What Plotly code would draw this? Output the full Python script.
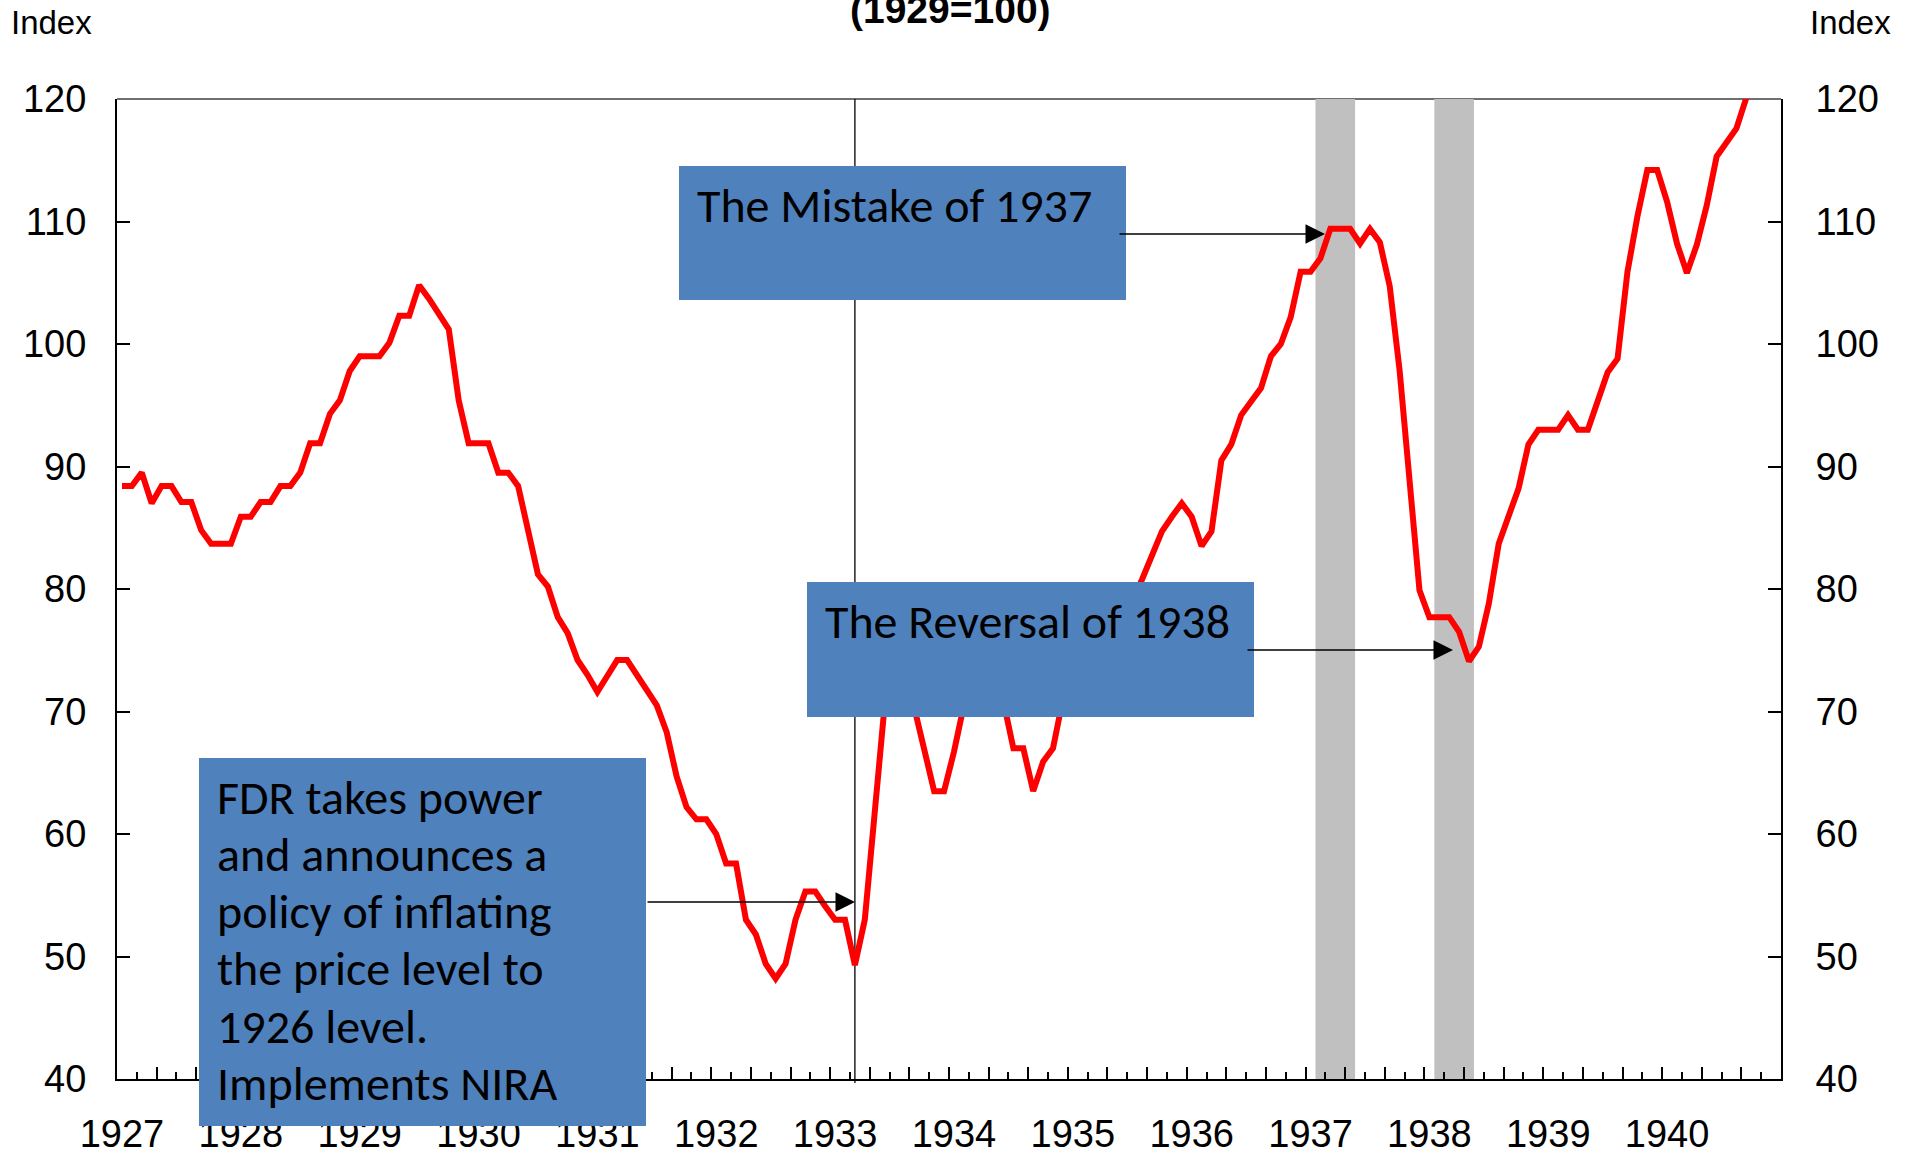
import plotly.graph_objects as go

# ---------------- data ----------------
years = [str(y) for y in range(1927, 1941)]
months_per_year = 12
n_months = len(years) * months_per_year

# monthly index values (1929=100), Jan 1927 onward
index_values = [
    88.4, 88.4, 89.5, 87.0, 88.4, 88.4, 87.1, 87.1, 84.8, 83.7, 83.7, 83.7,        # 1927
    85.9, 85.9, 87.1, 87.1, 88.4, 88.4, 89.5, 91.9, 91.9, 94.3, 95.4, 97.8,        # 1928
    99.0, 99.0, 99.0, 100.1, 102.3, 102.3, 104.8, 103.7, 102.4, 101.2, 95.4, 91.9, # 1929
    91.9, 91.9, 89.5, 89.5, 88.4, 84.8, 81.2, 80.2, 77.7, 76.4, 74.2, 73.0,        # 1930
    71.6, 72.9, 74.2, 74.2, 73.0, 71.6, 70.5, 68.3, 64.7, 62.2, 61.2, 61.2,        # 1931
    60.0, 57.6, 57.6, 53.0, 51.8, 49.4, 48.2, 49.4, 53.0, 55.3, 55.3, 54.1,        # 1932
    53.0, 53.0, 49.3, 53.0, 61.7, 70.5, 77.0, 74.0, 70.3, 66.8, 63.5, 63.5,        # 1933
    66.7, 70.5, 73.0, 74.0, 73.0, 70.8, 67.0, 67.0, 63.5, 65.9, 67.0, 71.0,        # 1934
    72.0, 72.5, 73.5, 74.5, 76.0, 77.5, 79.0, 80.8, 82.8, 84.7, 85.9, 87.0,        # 1935
    85.9, 83.5, 84.7, 90.5, 91.8, 94.2, 95.3, 96.4, 99.0, 100.0, 102.2, 105.9,     # 1936
    105.9, 107.0, 109.4, 109.4, 109.4, 108.2, 109.4, 108.3, 104.7, 97.8, 88.5, 79.9,  # 1937
    77.7, 77.7, 77.7, 76.5, 74.1, 75.3, 78.8, 83.7, 85.9, 88.2, 91.8, 93.0,        # 1938
    93.0, 93.0, 94.2, 93.0, 93.0, 95.3, 97.7, 98.8, 105.9, 110.4, 114.2, 114.2,    # 1939
    111.6, 108.2, 105.8, 108.1, 111.3, 115.3, 116.4, 117.6, 120.1,                 # 1940
]
month_idx = list(range(len(index_values)))

# shaded periods (first and last month index, inclusive)
shaded_periods = [(121, 124), (133, 136)]
fdr_month = 74  # March 1933

y_ticks = [40, 50, 60, 70, 80, 90, 100, 110, 120]
y_range = [40, 120]

mistake_text = "The Mistake of 1937"
reversal_text = "The Reversal of 1938"
fdr_lines = ["FDR takes power", "and announces a", "policy of inflating",
             "the price level to", "1926 level.", "Implements NIRA"]

# ---------------- layout geometry ----------------
W, H = 1914, 1153
L, R, T, B = 117, 1781, 99, 1079
PW, PH = R - L, B - T


def px(xp):
    return (xp - L) / PW


def py(yp):
    return (B - yp) / PH


AXIS_FONT = dict(family="Liberation Sans, Arial, sans-serif", size=38, color="black")
BOX_FONT = dict(family="Carlito, Calibri, Lato, sans-serif", size=48, color="black")
BOX_COLOR = "#4F81BD"

fig = go.Figure()
fig.add_trace(go.Scatter(
    x=month_idx, y=index_values, mode="lines",
    line=dict(color="#FF0000", width=6), showlegend=False, hoverinfo="skip"))
fig.add_trace(go.Scatter(x=[None], y=[None], xaxis="x2", yaxis="y2",
                         showlegend=False, hoverinfo="skip"))

shapes = []
# top border
shapes.append(dict(type="line", xref="paper", yref="paper", x0=0, x1=1, y0=1, y1=1,
                   line=dict(color="#404040", width=1.5), layer="below"))
for a, b in shaded_periods:
    shapes.append(dict(type="rect", xref="x", yref="paper", x0=a - 0.5, x1=b + 0.5,
                       y0=0, y1=1, fillcolor="#C0C0C0", line=dict(width=0), layer="below"))
shapes.append(dict(type="line", xref="x", yref="paper", x0=fdr_month, x1=fdr_month,
                   y0=-4 / PH, y1=1, line=dict(color="black", width=1.3), layer="below"))

boxes = {
    "mistake": (679, 1126, 166, 300),
    "reversal": (807, 1254, 582, 717),
    "fdr": (199, 646, 758, 1126),
}
for k, (x0, x1, y0, y1) in boxes.items():
    shapes.append(dict(type="rect", xref="paper", yref="paper",
                       x0=px(x0), x1=px(x1), y0=py(y1), y1=py(y0),
                       fillcolor=BOX_COLOR, line=dict(width=0), layer="above"))

annotations = []
# box texts
annotations.append(dict(text=mistake_text, xref="paper", yref="paper",
                        x=px(695), y=py(206), xanchor="left", yanchor="middle",
                        showarrow=False, font=BOX_FONT, align="left"))
annotations.append(dict(text=reversal_text, xref="paper", yref="paper",
                        x=px(823), y=py(621), xanchor="left", yanchor="middle",
                        showarrow=False, font=BOX_FONT, align="left"))
for n, line in enumerate(fdr_lines):
    annotations.append(dict(text=line, xref="paper", yref="paper",
                            x=px(215), y=py(797 + n * 57.3), xanchor="left", yanchor="middle",
                            showarrow=False, font=BOX_FONT, align="left"))

# arrows (tip, tail in pixels)
arrows = [((855, 902), (646, 902)), ((1325, 234), (1118, 234)), ((1453, 650), (1246, 650))]
for (tx, ty), (sx, sy) in arrows:
    annotations.append(dict(text="", xref="paper", yref="paper", x=px(tx), y=py(ty),
                            ax=sx - tx, ay=sy - ty, axref="pixel", ayref="pixel",
                            showarrow=True, arrowhead=2, arrowsize=2.6, arrowwidth=1.5,
                            arrowcolor="black", standoff=0))

# axis titles
annotations.append(dict(text="Index", xref="paper", yref="paper", x=px(51), y=py(22),
                        xanchor="center", yanchor="middle", showarrow=False,
                        font=dict(family="Liberation Sans, Arial", size=33, color="black")))
annotations.append(dict(text="Index", xref="paper", yref="paper", x=px(1850), y=py(22),
                        xanchor="center", yanchor="middle", showarrow=False,
                        font=dict(family="Liberation Sans, Arial", size=33, color="black")))
annotations.append(dict(text="<b>(1929=100)</b>", xref="paper", yref="paper", x=px(950), y=py(10),
                        xanchor="center", yanchor="middle", showarrow=False,
                        font=dict(family="Liberation Sans, Arial", size=39, color="black")))

x_range = [-0.5, n_months - 0.5]

fig.update_layout(
    width=W, height=H,
    margin=dict(l=L, r=W - R, t=T, b=H - B, autoexpand=False),
    paper_bgcolor="white", plot_bgcolor="white",
    showlegend=False,
    shapes=shapes, annotations=annotations,
    xaxis=dict(range=x_range, tickmode="array",
               tickvals=[i * months_per_year for i in range(len(years))], ticktext=years,
               ticks="", showline=True, linecolor="black", linewidth=2,
               showgrid=False, zeroline=False, tickfont=AXIS_FONT,
               ticklabelstandoff=20, anchor="y"),
    xaxis2=dict(range=x_range, overlaying="x", side="bottom", anchor="y2",
                showticklabels=False, ticks="inside", tick0=-0.5, dtick=4,
                ticklen=12, tickwidth=1.5, tickcolor="black",
                minor=dict(ticks="inside", tick0=-0.5, dtick=2, ticklen=7,
                           tickwidth=1.5, tickcolor="black"),
                showline=False, showgrid=False, zeroline=False),
    yaxis=dict(range=y_range, tickmode="array", tickvals=y_ticks,
               ticks="inside", ticklen=13, tickwidth=1.5, tickcolor="black",
               showline=True, linecolor="black", linewidth=2,
               showgrid=False, zeroline=False, tickfont=AXIS_FONT,
               ticklabelstandoff=21, anchor="x"),
    yaxis2=dict(range=y_range, tickmode="array", tickvals=y_ticks, overlaying="y",
                side="right", anchor="x2",
                ticks="inside", ticklen=13, tickwidth=1.5, tickcolor="black",
                showline=True, linecolor="black", linewidth=2,
                showgrid=False, zeroline=False, tickfont=AXIS_FONT,
                ticklabelstandoff=25),
)

fig.write_html("out.html", config={"displayModeBar": False},
               post_script="document.body.style.margin='0';document.body.style.overflow='hidden';")
